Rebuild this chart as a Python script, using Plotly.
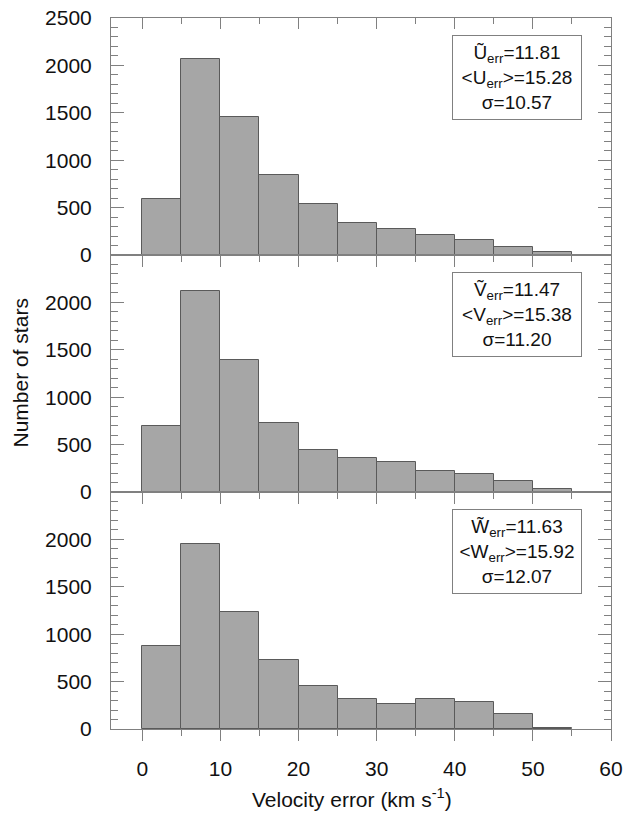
import plotly.graph_objects as go

# Histogram bins (km/s), 5 km/s wide
bin_left = [0, 5, 10, 15, 20, 25, 30, 35, 40, 45, 50]
bin_width = 5

# Star counts per bin for each velocity component error
u_counts = [590, 2065, 1455, 840, 540, 340, 277, 214, 155, 85, 28]
v_counts = [695, 2120, 1395, 727, 441, 355, 315, 222, 191, 117, 28]
w_counts = [880, 1955, 1233, 726, 451, 317, 264, 317, 289, 159, 8]

# Summary statistics shown in each panel
stats = [
    ("U\u0303", "U", "11.81", "15.28", "10.57"),
    ("V\u0303", "V", "11.47", "15.38", "11.20"),
    ("W\u0303", "W", "11.63", "15.92", "12.07"),
]

x_ticks = [0, 10, 20, 30, 40, 50, 60]
y_ticks_top = [0, 500, 1000, 1500, 2000, 2500]
y_ticks_low = [0, 500, 1000, 1500, 2000]

FONT = "Liberation Sans, Arial, Helvetica, sans-serif"
FRAME = "#808080"
BAR_FILL = "#a6a6a6"
BAR_EDGE = "#5a5a5a"

centers = [b + bin_width / 2 for b in bin_left]

fig = go.Figure()
series = [u_counts, v_counts, w_counts]
for i, counts in enumerate(series):
    sfx = "" if i == 0 else str(i + 1)
    fig.add_trace(go.Bar(
        x=centers, y=counts, width=[bin_width] * len(centers),
        marker=dict(color=BAR_FILL, line=dict(color=BAR_EDGE, width=1)),
        xaxis="x" + sfx, yaxis="y" + sfx, showlegend=False,
    ))

# empty trace to carry the inner top tick row of the upper panel
fig.add_trace(go.Scatter(x=[], y=[], xaxis="x4", yaxis="y", showlegend=False))

domains = [[2 / 3, 1.0], [1 / 3, 2 / 3], [0.0, 1 / 3]]
xr = [-4, 60]
yr = [0, 2500]

def x_axis(anchor, labels):
    return dict(
        range=xr, anchor=anchor, domain=[0, 1], automargin=False,
        tickmode="array", tickvals=x_ticks,
        ticks="outside", ticklen=11, tickcolor=FRAME, tickwidth=1,
        minor=dict(tickmode="linear", tick0=0, dtick=5, ticks="outside",
                   ticklen=6, tickcolor=FRAME, tickwidth=1),
        showline=True, linecolor=FRAME, linewidth=1, mirror=True,
        showgrid=False, zeroline=False, showticklabels=labels,
        tickfont=dict(family=FONT, size=21, color="#111"),
        ticklabelstandoff=10,
    )

def y_axis(anchor, dom, vals):
    return dict(
        range=yr, anchor=anchor, domain=dom, automargin=False,
        tickmode="array", tickvals=vals,
        ticks="inside", ticklen=13, tickcolor=FRAME, tickwidth=1,
        minor=dict(tickmode="linear", tick0=0, dtick=100, ticks="inside",
                   ticklen=7, tickcolor=FRAME, tickwidth=1),
        showline=True, linecolor=FRAME, linewidth=1, mirror="ticks",
        showgrid=False, zeroline=False,
        tickfont=dict(family=FONT, size=21, color="#111"),
        ticklabelstandoff=14,
    )

fig.update_layout(
    width=624, height=814,
    margin=dict(l=111, r=13, t=18, b=85, autoexpand=False),
    paper_bgcolor="white", plot_bgcolor="white",
    bargap=0,
    xaxis=x_axis("y", False),
    xaxis2=x_axis("y2", False),
    xaxis3=x_axis("y3", True),
    xaxis4=dict(
        range=xr, overlaying="x", side="top", anchor="y", automargin=False,
        tickmode="array", tickvals=x_ticks,
        ticks="inside", ticklen=11, tickcolor=FRAME, tickwidth=1,
        minor=dict(tickmode="linear", tick0=0, dtick=5, ticks="inside",
                   ticklen=6, tickcolor=FRAME, tickwidth=1),
        showline=False, showgrid=False, zeroline=False, showticklabels=False,
    ),
    yaxis=y_axis("x", domains[0], y_ticks_top),
    yaxis2=y_axis("x2", domains[1], y_ticks_low),
    yaxis3=y_axis("x3", domains[2], y_ticks_low),
)

annotations = []
for i, (med, sym, median, mean, sigma) in enumerate(stats):
    sfx = "" if i == 0 else str(i + 1)
    text = (f"{med}<sub>err</sub>={median}<br>"
            f"&lt;{sym}<sub>err</sub>&gt;={mean}<br>"
            f"\u03c3={sigma}")
    annotations.append(dict(
        x=48, y=1872, xref="x" + sfx, yref="y" + sfx,
        xanchor="center", yanchor="middle", showarrow=False,
        text=text, align="center", valign="middle",
        width=128, height=83, borderpad=0,
        bordercolor=FRAME, borderwidth=1, bgcolor="white",
        font=dict(family=FONT, size=19, color="#111"),
    ))

annotations.append(dict(
    x=-0.182, y=0.5, xref="paper", yref="paper",
    xanchor="center", yanchor="middle", textangle=-90, showarrow=False,
    text="Number of stars", font=dict(family=FONT, size=21, color="#111"),
))
annotations.append(dict(
    x=0.482, y=-0.097, xref="paper", yref="paper",
    xanchor="center", yanchor="middle", showarrow=False,
    text="Velocity error (km s<sup>-1</sup>)",
    font=dict(family=FONT, size=21, color="#111"),
))
fig.update_layout(annotations=annotations)

fig.write_html("out.html")
